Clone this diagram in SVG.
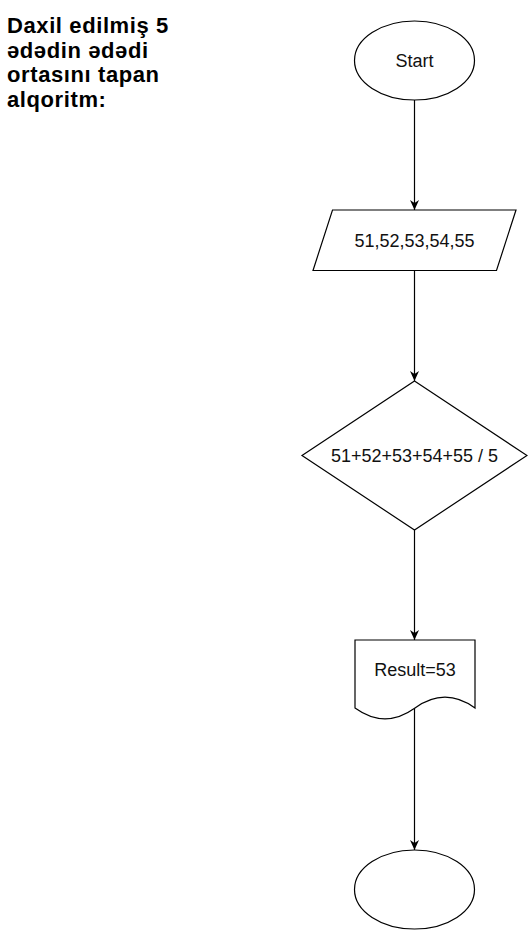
<svg xmlns="http://www.w3.org/2000/svg" width="528" height="931" viewBox="0 0 528 931">
  <style>
    .shape { fill: #ffffff; stroke: #000000; stroke-width: 1.2; }
    .label { font-family: "Liberation Sans", Arial, sans-serif; font-size: 18px; fill: #111111; text-anchor: middle; }
    .title { font-family: "Liberation Sans", Arial, sans-serif; font-size: 22px; font-weight: bold; letter-spacing: 0.6px; fill: #000000; }
    .edge { fill: none; stroke: #000000; stroke-width: 1.2; marker-end: url(#arrow); }
  </style>
  <defs>
    <marker id="arrow" viewBox="0 0 10 9" refX="10" refY="4.5" markerWidth="10" markerHeight="9" markerUnits="userSpaceOnUse" orient="auto">
      <path d="M0,0 L10,4.5 L0,9 L3,4.5 Z" fill="#000000"/>
    </marker>
  </defs>
  <rect x="0" y="0" width="528" height="931" fill="#ffffff"/>

  <!-- heading -->
  <g id="title">
    <text class="title" x="7" y="33">Daxil edilmiş 5</text>
    <text class="title" x="7" y="57.5">ədədin ədədi</text>
    <text class="title" x="7" y="82">ortasını tapan</text>
    <text class="title" x="7" y="106.5">alqoritm:</text>
  </g>

  <!-- connectors -->
  <g id="connectors">
    <line class="edge" x1="414.5" y1="100" x2="414.5" y2="210"/>
    <line class="edge" x1="414.5" y1="270.5" x2="414.5" y2="381"/>
    <line class="edge" x1="414.5" y1="530" x2="414.5" y2="640"/>
    <line class="edge" x1="414.5" y1="708" x2="414.5" y2="850"/>
  </g>

  <g id="start">
    <ellipse class="shape" cx="414.5" cy="60.5" rx="60" ry="39.5"/>
    <text class="label" x="414.5" y="67">Start</text>
  </g>

  <g id="input">
    <polygon class="shape" points="313,270.5 332.5,210 516,210 496.5,270.5"/>
    <text class="label" x="414.5" y="247">51,52,53,54,55</text>
  </g>

  <g id="process">
    <polygon class="shape" points="414.5,381 527,455.5 414.5,530 302,455.5"/>
    <text class="label" x="414.5" y="462">51+52+53+54+55 / 5</text>
  </g>

  <g id="output">
    <path class="shape" d="M355,640 H475 V708 Q445,686.4 415,708 Q385,729.6 355,708 Z"/>
    <text class="label" x="415" y="676">Result=53</text>
  </g>

  <g id="end">
    <ellipse class="shape" cx="414.5" cy="889.5" rx="60" ry="39.5"/>
  </g>
</svg>
